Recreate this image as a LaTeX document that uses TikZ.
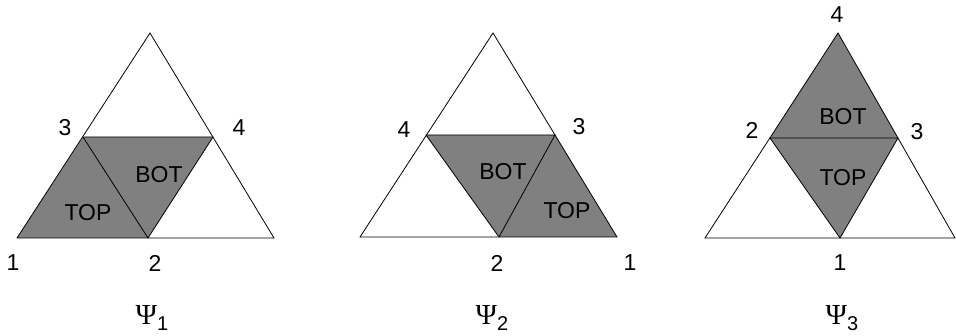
\documentclass[tikz,border=0pt]{standalone}
\usepackage{fontspec}
\setmainfont{Liberation Sans}
\newfontfamily\greekfont{Liberation Serif}
\usetikzlibrary{positioning}
\newcommand{\psiname}[1]{{\greekfont\fontsize{29}{32}\selectfont Ψ}\raisebox{-1.0ex}{\fontsize{20}{24}\selectfont #1}}
\tikzset{
  edge/.style={draw=black, line width=0.8pt},
  face/.style={fill=gray},
  vlabel/.style={font=\fontsize{23}{26}\selectfont, inner sep=0pt},
  flabel/.style={font=\fontsize{23}{26}\selectfont, inner sep=0pt},
}
\begin{document}
\begin{tikzpicture}[x=1pt, y=-1pt]
    \useasboundingbox (0,0) rectangle (956,336);

    % Psi_1
    \coordinate (A1) at (150,33);
    \coordinate (L1) at (17,238);
    \coordinate (R1) at (274,238);
    \coordinate (M1) at (148,238);
    \coordinate (P1) at (83,137);
    \coordinate (Q1) at (213,137);
    \fill[face] (L1) -- (P1) -- (Q1) -- (M1) -- cycle;
    \draw[edge] (L1) -- (A1) -- (R1) -- cycle;
    \draw[edge] (P1) -- (Q1) -- (M1) -- cycle;
    \node[vlabel] (v11) at (13,263) {1};
    \node[vlabel] (v12) at (155,263) {2};
    \node[vlabel] (v13) at (65,128) {3};
    \node[vlabel] (v14) at (239,128) {4};
    \node[flabel] (top1) at (88,213) {TOP};
    \node[flabel] (bot1) at (159,175) {BOT};
    \node (psi1) at (152,318) {\psiname{1}};

    % Psi_2
    \coordinate (A2) at (493,33);
    \coordinate (L2) at (360,237);
    \coordinate (R2) at (617,237);
    \coordinate (M2) at (499,237);
    \coordinate (P2) at (426,135);
    \coordinate (Q2) at (555,135);
    \fill[face] (P2) -- (Q2) -- (R2) -- (M2) -- cycle;
    \draw[edge] (L2) -- (A2) -- (R2) -- cycle;
    \draw[edge] (P2) -- (Q2) -- (M2) -- cycle;
    \node[vlabel] (v21) at (630,263) {1};
    \node[vlabel] (v22) at (497,263) {2};
    \node[vlabel] (v23) at (579,127) {3};
    \node[vlabel] (v24) at (404,130) {4};
    \node[flabel] (top2) at (567,211) {TOP};
    \node[flabel] (bot2) at (503,172) {BOT};
    \node (psi2) at (492,318) {\psiname{2}};

    % Psi_3
    \coordinate (A3) at (838,33);
    \coordinate (L3) at (705,238);
    \coordinate (R3) at (955,238);
    \coordinate (M3) at (840,238);
    \coordinate (P3) at (770,138);
    \coordinate (Q3) at (898,138);
    \fill[face] (P3) -- (A3) -- (Q3) -- (M3) -- cycle;
    \draw[edge] (L3) -- (A3) -- (R3) -- cycle;
    \draw[edge] (P3) -- (Q3) -- (M3) -- cycle;
    \node[vlabel] (v31) at (840,263) {1};
    \node[vlabel] (v32) at (752,130) {2};
    \node[vlabel] (v33) at (917,132) {3};
    \node[vlabel] (v34) at (837,15) {4};
    \node[flabel] (top3) at (843,178) {TOP};
    \node[flabel] (bot3) at (843,117) {BOT};
    \node (psi3) at (842,318) {\psiname{3}};
\end{tikzpicture}
\end{document}
